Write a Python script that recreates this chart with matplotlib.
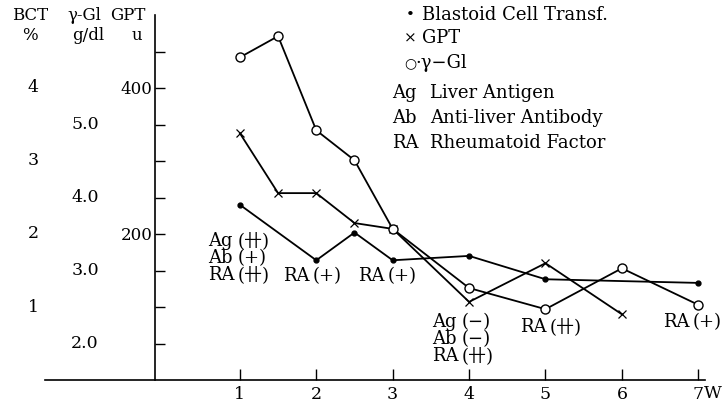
import matplotlib
matplotlib.use("Agg")
import matplotlib.pyplot as plt
from matplotlib.transforms import blended_transform_factory

plt.rcParams["font.family"] = ["DejaVu Serif", "DejaVu Sans", "Noto Sans CJK JP"]
plt.rcParams["font.size"] = 13

W, H = 725, 405

# gamma-globulin (g/dl), open circles
weeks_gl = [1, 1.5, 2, 2.5, 3, 4, 5, 6, 7]
gl = [5.92, 6.21, 4.92, 4.51, 3.57, 2.76, 2.47, 3.03, 2.53]
# GPT (u), crosses
weeks_gpt = [1, 1.5, 2, 2.5, 3, 4, 5, 6]
gpt = [338, 256, 256, 215, 207, 107, 160, 90]
# blastoid cell transformation (%), dots
weeks_bct = [1, 2, 2.5, 3, 4, 5, 7]
bct = [2.40, 1.64, 2.02, 1.64, 1.70, 1.38, 1.33]

week_ticks = [1, 2, 3, 4, 5, 6, 7]
bct_ticks = [1, 2, 3, 4]
gl_ticks = [2.0, 3.0, 4.0, 5.0]
gpt_ticks = [50, 100, 150, 200, 250, 300, 350, 400, 450]
gpt_labels = ["", "", "", "200", "", "", "", "400", ""]

legend_items = [("•", "Blastoid Cell Transf."), ("×", "GPT"), ("○", "·γ−Gl")]
abbrev_items = [("Ag", "Liver Antigen"), ("Ab", "Anti-liver Antibody"),
                ("RA", "Rheumatoid Factor")]

# annotations: (x in weeks, y in GPT units, left column, right column)
notes = [
    (0.58, 167, "Ag\nAb\nRA", "(卄)\n(+)\n(卄)"),
    (1.565, 142, "RA", "(+)"),
    (2.545, 142, "RA", "(+)"),
    (3.515, 56, "Ag\nAb\nRA", "(−)\n(−)\n(卄)"),
    (4.665, 73, "RA", "(卄)"),
    (6.54, 79, "RA", "(+)"),
]


def fx(px):
    return px / W


def fy(py):
    return 1 - py / H


fig = plt.figure(figsize=(W / 100, H / 100), dpi=100)
ax = fig.add_axes([fx(45), fy(380), 660 / W, 365 / H])
ax.set_xlim(-1.551, 7.088)
ax.set_ylim(0, 500)
for s in ["left", "right", "top"]:
    ax.spines[s].set_visible(False)
ax.spines["bottom"].set_linewidth(1.2)
ax.set_yticks([])
ax.set_xticks(week_ticks)
ax.set_xticklabels([str(w) for w in week_ticks])
ax.tick_params(axis="x", direction="in", length=8, width=1, pad=4, labelsize=12.5)
fig.text(fx(704), fy(393), "W", ha="left", va="center", fontsize=12.5)

# vertical GPT axis
ax_v = fig.add_axes([fx(155), fy(380), 0.0001, 365 / H])
ax_v.set_ylim(0, 500)
for s in ["right", "top", "bottom"]:
    ax_v.spines[s].set_visible(False)
ax_v.spines["left"].set_linewidth(1.2)
ax_v.set_xticks([])
ax_v.set_yticks(gpt_ticks)
ax_v.set_yticklabels(gpt_labels)
ax_v.tick_params(axis="y", direction="in", length=7, width=1, pad=2, labelsize=12)
ax_v.patch.set_visible(False)

ax_b = ax.twinx()
ax_b.set_ylim(0, 5)
ax_b.axis("off")
ax_g = ax.twinx()
ax_g.set_ylim(1.5, 6.5)
ax_g.axis("off")

ax_b.plot(weeks_bct, bct, "-o", color="black", lw=1.3, ms=3.5)
ax.plot(weeks_gpt, gpt, "-x", color="black", lw=1.3, ms=5.5, mew=0.9)
ax_g.plot(weeks_gl, gl, "-o", color="black", lw=1.3, ms=6.5, mfc="white", mew=1)

# left scale labels
tb = blended_transform_factory(fig.transFigure, ax_b.transData)
for v in bct_ticks:
    ax_b.text(fx(33), v, str(v), transform=tb, ha="center", va="center", fontsize=12.5)
tg = blended_transform_factory(fig.transFigure, ax_g.transData)
for v in gl_ticks:
    ax_g.text(fx(85), v, f"{v:.1f}", transform=tg, ha="center", va="center", fontsize=12.5)

for x, y, s in [(30, 15, "BCT"), (84, 15, "γ-Gl"), (128, 15, "GPT"),
                (30, 36, "%"), (88, 36, "g/dl"), (137, 36, "u")]:
    fig.text(fx(x), fy(y), s, ha="center", va="center", fontsize=12)

# legend
for i, (sym, lab) in enumerate(legend_items):
    y = [15, 38, 63][i]
    fig.text(fx(410), fy(y), sym, ha="center", va="center", fontsize=[11, 11, 10][i])
    fig.text(fx([422, 422, 415][i]), fy(y), lab, ha="left", va="center", fontsize=13)
for i, (ab, lab) in enumerate(abbrev_items):
    y = [93, 118, 143][i]
    fig.text(fx(392), fy(y), ab, ha="left", va="center", fontsize=13)
    fig.text(fx(430), fy(y), lab, ha="left", va="center", fontsize=13)

for x, y, left, right in notes:
    ax.text(x, y, left, ha="left", va="center", fontsize=13, linespacing=0.95)
    ax.text(x + 0.39, y, right, ha="left", va="center", fontsize=13, linespacing=0.95)

fig.savefig("out.png", dpi=100)
